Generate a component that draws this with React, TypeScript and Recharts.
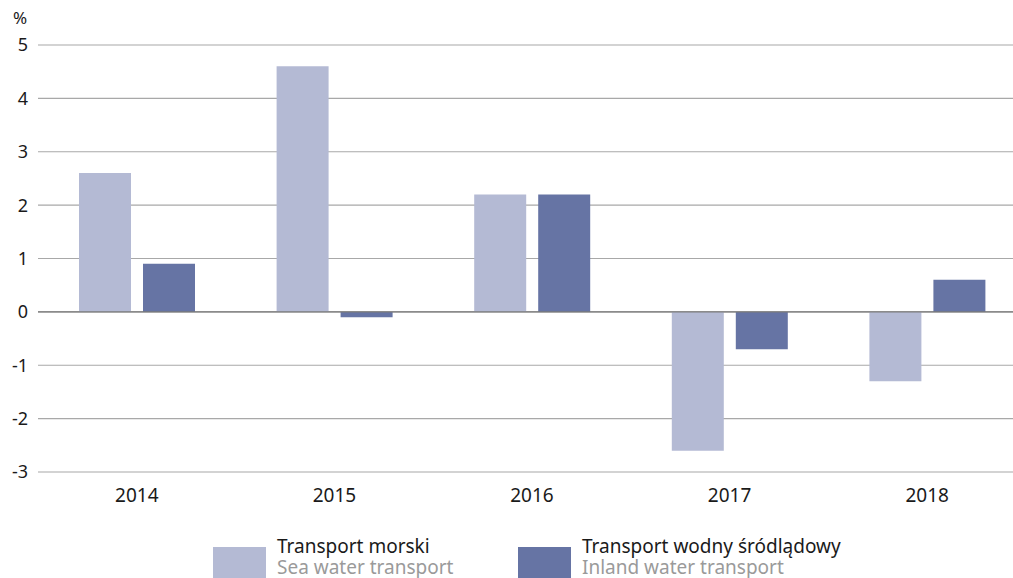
import React from 'react';
import {
  Bar,
  BarChart,
  CartesianGrid,
  ReferenceLine,
  XAxis,
  YAxis,
} from 'recharts';

const years = ['2014', '2015', '2016', '2017', '2018'];
const seaTransport = [2.6, 4.6, 2.2, -2.6, -1.3];
const inlandTransport = [0.9, -0.1, 2.2, -0.7, 0.6];
const yTicks = [-3, -2, -1, 0, 1, 2, 3, 4, 5];

const seriesInfo = [
  { key: 'sea', pl: 'Transport morski', en: 'Sea water transport', color: '#b4bad4', left: 213 },
  { key: 'inland', pl: 'Transport wodny śródlądowy', en: 'Inland water transport', color: '#6674a4', left: 518 },
];

const data = years.map((year, i) => ({
  year,
  sea: seaTransport[i],
  inland: inlandTransport[i],
}));

const FONT = '"Noto Sans", "Open Sans", sans-serif';

function LegendBlock() {
  return (
    <>
      {seriesInfo.map((s) => (
        <div
          key={s.key}
          style={{ position: 'absolute', left: s.left, top: 536, display: 'flex', fontFamily: FONT }}
        >
          <div style={{ width: 53, height: 31, marginTop: 11, background: s.color }} />
          <div style={{ marginLeft: 11, lineHeight: '21px', fontSize: 19, whiteSpace: 'nowrap' }}>
            <div style={{ color: '#1a1a1a' }}>{s.pl}</div>
            <div style={{ color: '#9a9a9a' }}>{s.en}</div>
          </div>
        </div>
      ))}
    </>
  );
}

export default function App() {
  return (
    <div style={{ position: 'absolute', left: 0, top: 0, width: 1013, height: 578, background: '#fff', overflow: 'hidden' }}>
      <div style={{ position: 'absolute', left: 13, top: 6, fontFamily: FONT, fontSize: 17, color: '#1a1a1a' }}>%</div>
      {/* category bands run past the right edge; the grid gets clipped there */}
      <BarChart
        width={1013}
        height={578}
        data={data}
        margin={{ top: 45, right: -13, left: 0, bottom: 76 }}
        barGap={12}
        barSize={52}
      >
        <CartesianGrid vertical={false} stroke="#a8a8a8" strokeWidth={1.2} />
        <XAxis
          dataKey="year"
          height={30}
          axisLine={false}
          tickLine={false}
          tickMargin={11}
          tick={{ fill: '#1a1a1a', fontSize: 19, fontFamily: FONT }}
        />
        <YAxis
          width={38}
          domain={[-3, 5]}
          ticks={yTicks}
          axisLine={false}
          tickLine={false}
          tickSize={0}
          tickMargin={10}
          tick={{ fill: '#1a1a1a', fontSize: 18, fontFamily: FONT }}
        />
        <ReferenceLine y={0} stroke="#7a7a7a" strokeWidth={1.4} />
        <Bar dataKey="sea" fill={seriesInfo[0].color} isAnimationActive={false} />
        <Bar dataKey="inland" fill={seriesInfo[1].color} isAnimationActive={false} />
      </BarChart>
      <LegendBlock />
    </div>
  );
}
